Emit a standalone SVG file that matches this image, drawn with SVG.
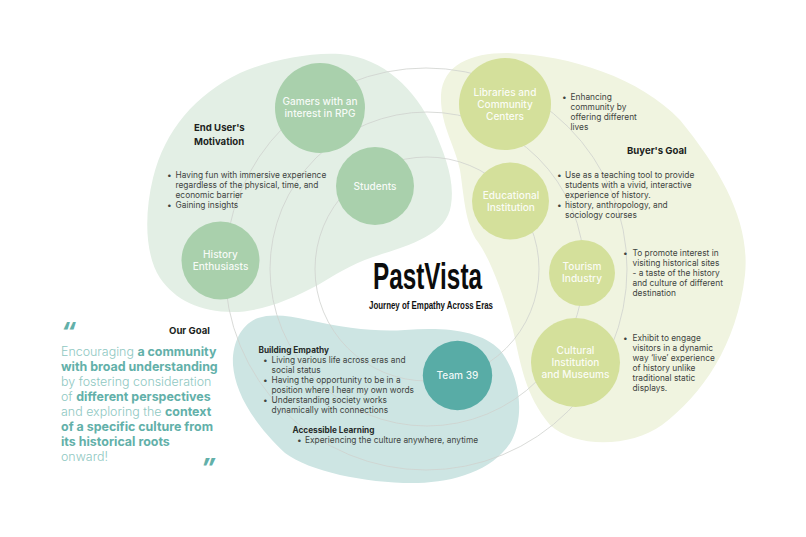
<svg xmlns="http://www.w3.org/2000/svg" width="806" height="537" viewBox="0 0 806 537">
<style>
text{font-family:Inter,"Noto Sans","Liberation Sans",sans-serif}
.n{font-size:10.1px;font-weight:500;fill:#fff;text-anchor:middle;fill-opacity:.92}
.b{font-size:8.35px;fill:#3f4441}
.h{font-size:9.6px;font-weight:700;fill:#1c1f1d}
.s{font-size:8.25px;font-weight:700;fill:#262b29}
.q{font-size:12.45px;font-weight:300;fill:#8fc8c2}
.q tspan{font-weight:700;fill:#62b0a9}
.m{font-size:24px;font-weight:800;font-style:italic;fill:#62b0a9}
.arc{fill:none;stroke:#cfd2ce;stroke-width:.8}
.g{fill:#a9d0ac}.y{fill:#d4e09b}
</style>
<g id="blobs">
<path id="blob-end-user" fill="#e3efe5" d="M340 54C385 58 415 90 433 127C445 155 455 180 451 205C447 235 410 245 373 257C350 265 335 275 318 285C290 300 260 312 233 312C200 312 175 300 160 278C145 255 144 215 153 178C165 130 195 95 240 73C270 60 310 52 340 54Z"/>
<path id="blob-buyer" fill="#f0f4e0" d="M507 53C470 53 443 65 441 95C440 125 455 145 460 170C464 195 465 225 478 242C492 262 505 300 513 330C521 365 525 395 550 425C575 448 630 448 662 425C702 395 737 345 745 275C750 225 725 175 680 120C640 78 570 55 507 53Z"/>
<path id="blob-team" fill="#cde5e3" d="M258 318C240 325 232 345 233 365C235 390 250 420 285 453C310 472 370 484 418 483C455 482 495 470 512 440C525 415 520 375 500 350C480 330 445 327 405 330C375 332 345 328 308 320C290 316 272 313 258 318Z"/>
</g>
<g id="connectors">
<circle class="arc" cx="427" cy="269" r="112"/>
<circle class="arc" cx="427" cy="269" r="157"/>
<circle class="arc" cx="426" cy="269" r="201"/>
</g>
<g id="node-gamers"><circle class="g" cx="320" cy="108" r="45"/><text class="n" x="320" y="105">Gamers with an</text><text class="n" x="320" y="117">interest in RPG</text></g>
<g id="node-students"><circle class="g" cx="375" cy="186" r="39"/><text class="n" x="375" y="190">Students</text></g>
<g id="node-history"><circle class="g" cx="220.500" cy="260.500" r="39"/><text class="n" x="220.500" y="258">History</text><text class="n" x="220.500" y="270">Enthusiasts</text></g>
<g id="node-libraries"><circle class="y" cx="505" cy="104" r="46"/><text class="n" x="505" y="96">Libraries and</text><text class="n" x="505" y="108">Community</text><text class="n" x="505" y="120">Centers</text></g>
<g id="node-educational"><circle class="y" cx="510.500" cy="201" r="38.500"/><text class="n" x="511" y="199">Educational</text><text class="n" x="511" y="211">Institution</text></g>
<g id="node-tourism"><circle class="y" cx="582" cy="273" r="33"/><text class="n" x="582" y="270">Tourism</text><text class="n" x="582" y="282">Industry</text></g>
<g id="node-cultural"><circle class="y" cx="575.500" cy="362.500" r="44.500"/><text class="n" x="575.500" y="354">Cultural</text><text class="n" x="575.500" y="366">Institution</text><text class="n" x="575.500" y="378">and Museums</text></g>
<g id="node-team"><circle fill="#58aca6" cx="457.500" cy="375.500" r="34.700"/><text class="n" x="457.500" y="379">Team 39</text></g>
<g id="title">
<text x="373" y="289" font-size="36" font-weight="700" textLength="109" lengthAdjust="spacingAndGlyphs" style="font-family:'Liberation Sans',sans-serif" fill="#0c0c0c">PastVista</text>
<text x="369" y="309" font-size="10" font-weight="700" textLength="124" lengthAdjust="spacingAndGlyphs" style="font-family:'Liberation Sans',sans-serif" fill="#111">Journey of Empathy Across Eras</text>
</g>
<g id="end-user-text">
<text class="h" x="194" y="131">End User's</text><text class="h" x="194" y="145">Motivation</text>
<text class="b" x="167" y="178">•</text><text class="b" x="175.500" y="178">Having fun with immersive experience</text>
<text class="b" x="175.500" y="188">regardless of the physical, time, and</text>
<text class="b" x="175.500" y="198">economic barrier</text>
<text class="b" x="167" y="208">•</text><text class="b" x="175.500" y="208">Gaining insights</text>
</g>
<g id="buyer-text">
<text class="h" x="627" y="153.500">Buyer's Goal</text>
<text class="b" x="562" y="100">•</text><text class="b" x="570.500" y="100">Enhancing</text>
<text class="b" x="570.500" y="110">community by</text><text class="b" x="570.500" y="120">offering different</text><text class="b" x="570.500" y="130">lives</text>
<text class="b" x="557" y="178">•</text><text class="b" x="565" y="178">Use as a teaching tool to provide</text>
<text class="b" x="565" y="188">students with a vivid, interactive</text><text class="b" x="565" y="198">experience of history.</text>
<text class="b" x="557" y="208">•</text><text class="b" x="565" y="208">history, anthropology, and</text><text class="b" x="565" y="218">sociology courses</text>
<text class="b" x="623" y="255.500">•</text><text class="b" x="632.500" y="255.500">To promote interest in</text>
<text class="b" x="632.500" y="265.500">visiting historical sites</text><text class="b" x="632.500" y="275.500">- a taste of the history</text>
<text class="b" x="632.500" y="285.500">and culture of different</text><text class="b" x="632.500" y="295.500">destination</text>
<text class="b" x="623" y="340.500">•</text><text class="b" x="632.500" y="340.500">Exhibit to engage</text>
<text class="b" x="632.500" y="350.500">visitors in a dynamic</text><text class="b" x="632.500" y="360.500">way ‘live’ experience</text>
<text class="b" x="632.500" y="370.500">of history unlike</text><text class="b" x="632.500" y="380.500">traditional static</text><text class="b" x="632.500" y="390.500">displays.</text>
</g>
<g id="team-text">
<text class="s" x="258.500" y="352.500">Building Empathy</text>
<text class="b" x="263" y="362.500">•</text><text class="b" x="271.500" y="362.500">Living various life across eras and</text>
<text class="b" x="271.500" y="372.500">social status</text>
<text class="b" x="263" y="382.500">•</text><text class="b" x="271.500" y="382.500">Having the opportunity to be in a</text>
<text class="b" x="271.500" y="392.500">position where I hear my own words</text>
<text class="b" x="263" y="402.500">•</text><text class="b" x="271.500" y="402.500">Understanding society works</text>
<text class="b" x="271.500" y="412.500">dynamically with connections</text>
<text class="s" x="292.500" y="432.500">Accessible Learning</text>
<text class="b" x="297" y="443">•</text><text class="b" x="305" y="443">Experiencing the culture anywhere, anytime</text>
</g>
<g id="goal-text">
<text class="h" x="169" y="333.500">Our Goal</text>
<text class="m" x="61" y="340">“</text>
<text class="q" x="61" y="356">Encouraging <tspan>a community</tspan></text>
<text class="q" x="61" y="371"><tspan>with broad understanding</tspan></text>
<text class="q" x="61" y="386">by fostering consideration</text>
<text class="q" x="61" y="401">of <tspan>different perspectives</tspan></text>
<text class="q" x="61" y="416">and exploring the <tspan>context</tspan></text>
<text class="q" x="61" y="431"><tspan>of a specific culture from</tspan></text>
<text class="q" x="61" y="446"><tspan>its historical roots</tspan></text>
<text class="q" x="61" y="461">onward!</text>
<text class="m" x="201" y="476">”</text>
</g>
</svg>
